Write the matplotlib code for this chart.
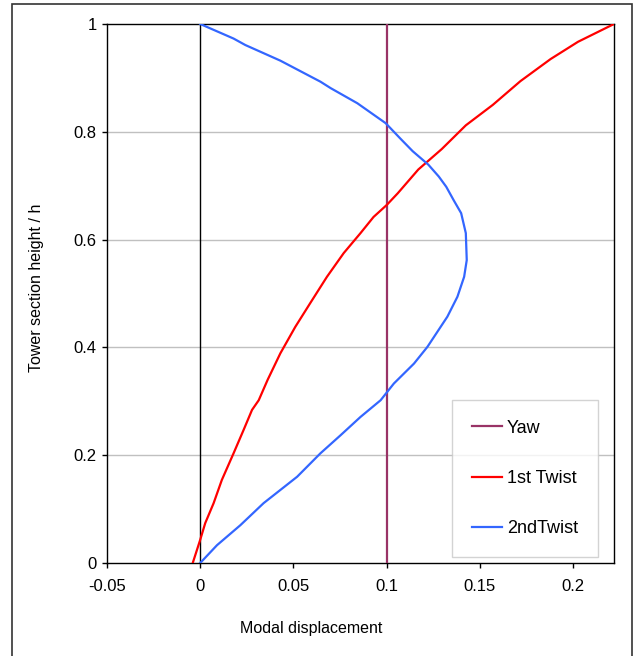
import numpy as np
import matplotlib
matplotlib.use("Agg")
import matplotlib.pyplot as plt
from matplotlib.patches import Rectangle

plt.rcParams['font.family'] = ['Liberation Sans', 'DejaVu Sans']

# Yaw mode: constant displacement over height
yaw_x = [0.1, 0.1]
yaw_y = [0.0, 1.0]

# 1st twist mode
twist1_x = [-0.004, 0.0, 0.0027, 0.0072, 0.0116, 0.0179, 0.0233, 0.0278, 0.0314,
            0.0362, 0.043, 0.051, 0.059, 0.068, 0.077, 0.086, 0.093, 0.1, 0.106,
            0.117, 0.1296, 0.1425, 0.157, 0.1718, 0.188, 0.2027, 0.222]
twist1_y = [0.0, 0.043, 0.074, 0.111, 0.154, 0.2035, 0.247, 0.284, 0.302,
            0.340, 0.389, 0.438, 0.482, 0.531, 0.575, 0.612, 0.642, 0.664, 0.686,
            0.730, 0.768, 0.812, 0.850, 0.894, 0.935, 0.967, 1.0]

# 2nd twist mode
twist2_x = [0.0, 0.009, 0.0215, 0.034, 0.052, 0.0645, 0.0753, 0.086, 0.0968,
            0.1039, 0.1147, 0.1219, 0.1326, 0.138, 0.1416, 0.143, 0.1425, 0.140,
            0.136, 0.132, 0.128, 0.1224, 0.114, 0.1075, 0.0995, 0.0843, 0.070,
            0.0645, 0.043, 0.0242, 0.0179, 0.0]
twist2_y = [0.0, 0.033, 0.070, 0.111, 0.160, 0.2035, 0.237, 0.271, 0.302,
            0.333, 0.370, 0.401, 0.457, 0.494, 0.531, 0.562, 0.612, 0.649,
            0.673, 0.698, 0.717, 0.739, 0.764, 0.787, 0.816, 0.853, 0.881,
            0.893, 0.932, 0.961, 0.973, 1.0]

xticks = [-0.05, 0, 0.05, 0.1, 0.15, 0.2]
xticklabels = ["-0.05", "0", "0.05", "0.1", "0.15", "0.2"]
yticks = [0, 0.2, 0.4, 0.6, 0.8, 1]
yticklabels = ["0", "0.2", "0.4", "0.6", "0.8", "1"]

W, H = 639, 656
fig = plt.figure(figsize=(W / 100, H / 100), dpi=100)
ax = fig.add_axes([107 / W, 1 - 563 / H, (614 - 107) / W, (563 - 24) / H])

# Outer chart border
fig.patches.append(Rectangle((12 / W, -0.02), (632 - 12) / W, 1 - 4 / H + 0.02,
                             transform=fig.transFigure, fill=False,
                             edgecolor='#333333', linewidth=1.2))

for y in [0.2, 0.4, 0.6, 0.8]:
    ax.axhline(y, color='#c0c0c0', linewidth=1, zorder=0)
ax.axvline(0, color='black', linewidth=1, zorder=1)

ax.plot(yaw_x, yaw_y, color='#993366', linewidth=1.6, label='Yaw', zorder=3)
ax.plot(twist1_x, twist1_y, color='#ff0000', linewidth=1.6, label='1st Twist', zorder=3)
ax.plot(twist2_x, twist2_y, color='#3366ff', linewidth=1.6, label='2ndTwist', zorder=3)

ax.set_xlim(-0.05, 0.222)
ax.set_ylim(0, 1)
ax.set_xticks(xticks)
ax.set_xticklabels(xticklabels)
ax.set_yticks(yticks)
ax.set_yticklabels(yticklabels)
ax.tick_params(axis='both', direction='out', length=3.5, width=1, labelsize=12)
ax.tick_params(axis='x', pad=8)
ax.tick_params(axis='y', pad=4)
for s in ax.spines.values():
    s.set_linewidth(1)
    s.set_color('black')

fig.text(311 / W, 1 - 629 / H, "Modal displacement", ha='center', va='center', fontsize=11.5)
fig.text(37 / W, 1 - 288 / H, "Tower section height / h", ha='center', va='center',
         rotation=90, fontsize=11.5)

leg = ax.legend(loc='center', bbox_to_anchor=(0.8245, 0.1568), fontsize=13,
                frameon=True, fancybox=False, borderpad=1.1, labelspacing=1.85,
                handlelength=1.66, handletextpad=0.25, borderaxespad=0)
leg.get_frame().set_edgecolor('#c8c8c8')
leg.get_frame().set_linewidth(1)

fig.savefig("out.png", dpi=100)
